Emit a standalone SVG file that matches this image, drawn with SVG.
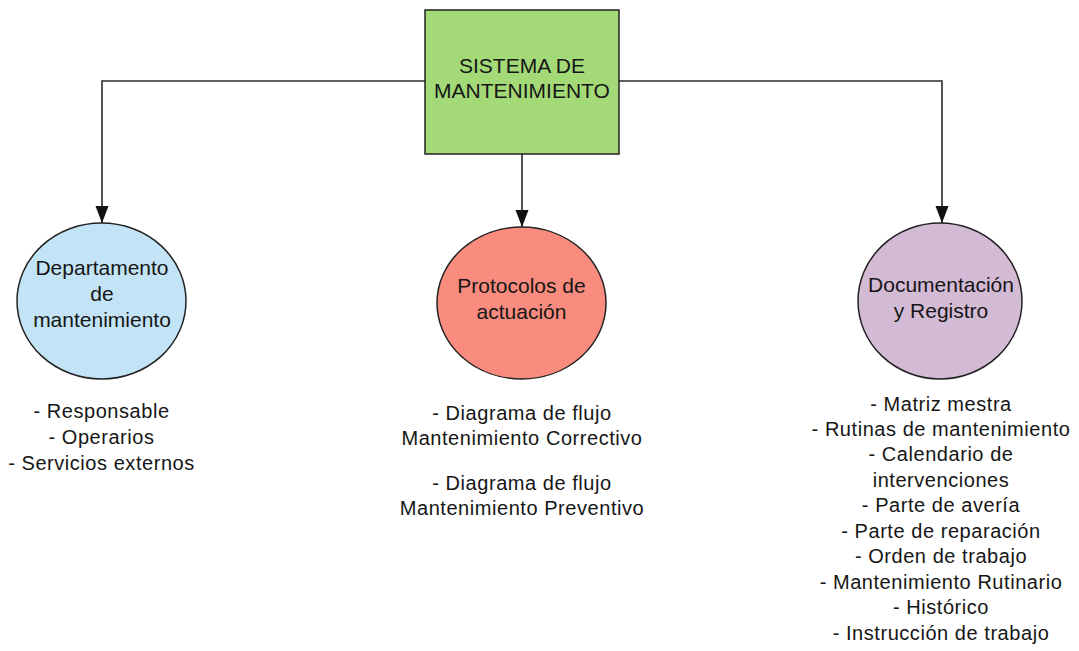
<svg xmlns="http://www.w3.org/2000/svg" width="1079" height="651" viewBox="0 0 1079 651">
  <defs>
    <marker id="head" markerUnits="userSpaceOnUse" markerWidth="18" markerHeight="14" refX="17" refY="7" orient="auto" viewBox="0 0 18 14">
      <path d="M0,0.5 L17,7 L0,13.5 Z" fill="#111"/>
    </marker>
  </defs>
  <style>
    text { font-family: "Liberation Sans", Arial, sans-serif; fill: #161616; text-anchor: middle; }
    .title { font-size: 21px; }
    .label { font-size: 21px; }
    .list { font-size: 20px; letter-spacing: 0.55px; }
    .edge { fill: none; stroke: #2b2b2b; stroke-width: 1.6; }
    .shape { stroke: #222; stroke-width: 1.5; }
  </style>
  <rect width="1079" height="651" fill="#ffffff"/>

  <!-- connectors -->
  <g id="connectors">
    <path class="edge" d="M425,81 H102 V223" marker-end="url(#head)"/>
    <path class="edge" d="M522,154 V227" marker-end="url(#head)"/>
    <path class="edge" d="M619,81 H942 V223" marker-end="url(#head)"/>
  </g>

  <!-- root node -->
  <g id="node-sistema">
    <rect class="shape" x="425" y="10" width="194" height="144" fill="#a3d977"/>
    <text class="title" x="522" y="72.5">SISTEMA DE</text>
    <text class="title" x="522" y="98">MANTENIMIENTO</text>
  </g>

  <!-- branch: department -->
  <g id="node-departamento">
    <ellipse class="shape" cx="101.5" cy="301" rx="84.5" ry="78" fill="#c3e4f6"/>
    <text class="label" x="102" y="275">Departamento</text>
    <text class="label" x="102" y="301">de</text>
    <text class="label" x="102" y="327">mantenimiento</text>
  </g>
  <g id="list-departamento">
    <text class="list" x="101.5" y="418">- Responsable</text>
    <text class="list" x="101.5" y="444">- Operarios</text>
    <text class="list" x="101.5" y="470">- Servicios externos</text>
  </g>

  <!-- branch: protocols -->
  <g id="node-protocolos">
    <ellipse class="shape" cx="521.5" cy="303" rx="84.5" ry="76" fill="#f98c7e"/>
    <text class="label" x="521.5" y="292.5">Protocolos de</text>
    <text class="label" x="521.5" y="318.5">actuación</text>
  </g>
  <g id="list-protocolos">
    <text class="list" x="522" y="420">- Diagrama de flujo</text>
    <text class="list" x="522" y="445">Mantenimiento Correctivo</text>
    <text class="list" x="522" y="490">- Diagrama de flujo</text>
    <text class="list" x="522" y="515">Mantenimiento Preventivo</text>
  </g>

  <!-- branch: documentation -->
  <g id="node-documentacion">
    <ellipse class="shape" cx="940" cy="301" rx="82" ry="78" fill="#d3bad5"/>
    <text class="label" x="941" y="291.5">Documentación</text>
    <text class="label" x="941" y="317.5">y Registro</text>
  </g>
  <g id="list-documentacion">
    <text class="list" x="941" y="411">- Matriz mestra</text>
    <text class="list" x="941" y="436">- Rutinas de mantenimiento</text>
    <text class="list" x="941" y="461">- Calendario de</text>
    <text class="list" x="941" y="486.5">intervenciones</text>
    <text class="list" x="941" y="512">- Parte de avería</text>
    <text class="list" x="941" y="537.5">- Parte de reparación</text>
    <text class="list" x="941" y="563">- Orden de trabajo</text>
    <text class="list" x="941" y="588.5">- Mantenimiento Rutinario</text>
    <text class="list" x="941" y="614">- Histórico</text>
    <text class="list" x="941" y="639.5">- Instrucción de trabajo</text>
  </g>
</svg>
